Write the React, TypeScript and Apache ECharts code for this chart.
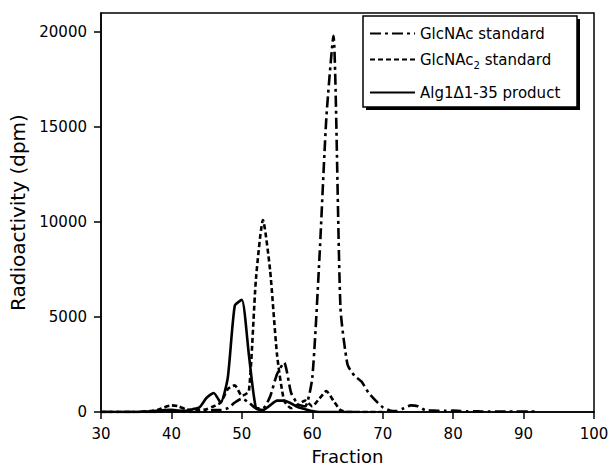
import React, { useEffect, useRef } from "react";
import * as echarts from "echarts";

const fractions = [
  30, 31, 32, 33, 34, 35, 36, 37, 38, 39, 40, 41, 42, 43, 44, 45, 46, 47, 48, 49,
  50, 51, 52, 53, 54, 55, 56, 57, 58, 59, 60, 61, 62, 63, 64, 65, 66, 67, 68, 69,
  70, 71, 72, 73, 74, 75, 76, 77, 78, 79, 80, 81, 82, 83, 84, 85, 86, 87, 88, 89,
  90, 91, 92,
];

// GlcNAc standard (dash-dot)
const glcnac = [
  0, 0, 0, 0, 0, 0, 0, 0, 10, 20, 30, 20, 10, 0, 0, 50, 100, 100, 200, 500,
  700, 500, 200, 200, 800, 2000, 2600, 1000, 400, 300, 1800, 8000, 15500, 19800, 5500, 2500, 1900, 1600, 1000, 600,
  250, 80, 50, 200, 350, 300, 100, 80, 60, 60, 70, 50, 40, 40, 30, 30, 30, 30, 30, 30,
  30, 30, 30,
];

// GlcNAc2 standard (dashed)
const glcnac2 = [
  0, 0, 0, 0, 0, 0, 20, 50, 100, 250, 350, 300, 150, 100, 100, 150, 300, 500, 1200, 1400,
  850, 1100, 7000, 10100, 7500, 3000, 600, 200, 400, 600, 300, 700, 1100, 600, 100, 0, 0, 0, 0, 0,
  0,
];

// Alg1Δ1-35 product (solid)
const product = [
  0, 0, 0, 0, 0, 0, 20, 30, 60, 100, 120, 80, 60, 150, 250, 750, 1000, 500, 1800, 5600,
  5900, 3000, 200, 100, 350, 600, 600, 450, 250, 150, 50, 0, 0, 0, 0, 0, 0,
];

const seriesNames = ["GlcNAc standard", "GlcNAc2 standard", "Alg1Δ1-35 product"];
const yTicks = [0, 5000, 10000, 15000, 20000];

const FONT = "DejaVu Sans";

export default function App() {
  const ref = useRef<HTMLDivElement>(null);
  useEffect(() => {
    if (!ref.current) return;
    const chart = echarts.init(ref.current, undefined, { renderer: "svg" });
    const toPairs = (vals: number[]) => vals.map((v, i) => [fractions[i], v]);
    const lineTypes: any[] = [[11, 4, 3, 4], [5, 3], "solid"];
    const seriesData = [glcnac, glcnac2, product];
    const legendTops = [26, 52, 85];
    chart.setOption({
      animation: false,
      backgroundColor: "#fff",
      textStyle: { fontFamily: FONT, color: "#000" },
      grid: {
        left: 101,
        right: 18,
        top: 13,
        bottom: 51,
        show: true,
        borderColor: "#000",
        borderWidth: 1.5,
      },
      xAxis: {
        type: "value",
        min: 30,
        max: 100,
        interval: 10,
        name: "Fraction",
        nameLocation: "middle",
        nameGap: 35,
        nameTextStyle: { fontFamily: FONT, fontSize: 18, color: "#000" },
        axisLine: { lineStyle: { color: "#000", width: 1.5 } },
        axisTick: { show: true, length: 7, lineStyle: { color: "#000", width: 1.5 } },
        axisLabel: { fontFamily: FONT, fontSize: 15, color: "#000", margin: 14 },
        splitLine: { show: false },
      },
      yAxis: {
        type: "value",
        min: 0,
        max: 21000,
        name: "Radioactivity (dpm)",
        nameLocation: "middle",
        nameGap: 47,
        nameTextStyle: { fontFamily: FONT, fontSize: 20, color: "#000" },
        axisLine: { show: true, lineStyle: { color: "#000", width: 1.5 } },
        axisTick: {
          show: true,
          length: 7,
          customValues: yTicks,
          lineStyle: { color: "#000", width: 1.5 },
        },
        axisLabel: {
          fontFamily: FONT,
          fontSize: 15,
          color: "#000",
          margin: 14,
          customValues: yTicks,
          formatter: (v: number) => String(v),
        },
        splitLine: { show: false },
      },
      graphic: [
        {
          type: "rect",
          shape: { x: 366, y: 19, width: 214, height: 91 },
          style: { fill: "#000" },
          z: 10,
        },
        {
          type: "rect",
          shape: { x: 363, y: 16, width: 214, height: 91 },
          style: { fill: "#fff", stroke: "#000", lineWidth: 1.5 },
          z: 11,
        },
      ],
      legend: seriesNames.map((n, i) => ({
        data: [{ name: n, itemStyle: { opacity: 0 } }],
        left: 363,
        top: legendTops[i],
        padding: [0, 0, 0, 6],
        itemWidth: 45,
        itemHeight: 14,
        z: 20,
        textStyle: {
          fontFamily: FONT,
          fontSize: 15,
          color: "#000",
          rich: {
            sub: { fontFamily: FONT, fontSize: 10, padding: [11, 0, 0, 0], color: "#000" },
          },
        },
        formatter: (name: string) =>
          name === "GlcNAc2 standard" ? "GlcNAc{sub|2} standard" : name,
      })),
      series: seriesData.map((vals, i) => ({
        name: seriesNames[i],
        type: "line",
        data: toPairs(vals),
        showSymbol: false,
        symbol: "none",
        smooth: 0.2,
        lineStyle: { color: "#000", width: 2.6, type: lineTypes[i] },
        itemStyle: { color: "#000" },
      })),
    });
    return () => chart.dispose();
  }, []);
  return (
    <div
      ref={ref}
      style={{ position: "fixed", left: 0, top: 0, width: 612, height: 470 }}
    />
  );
}
